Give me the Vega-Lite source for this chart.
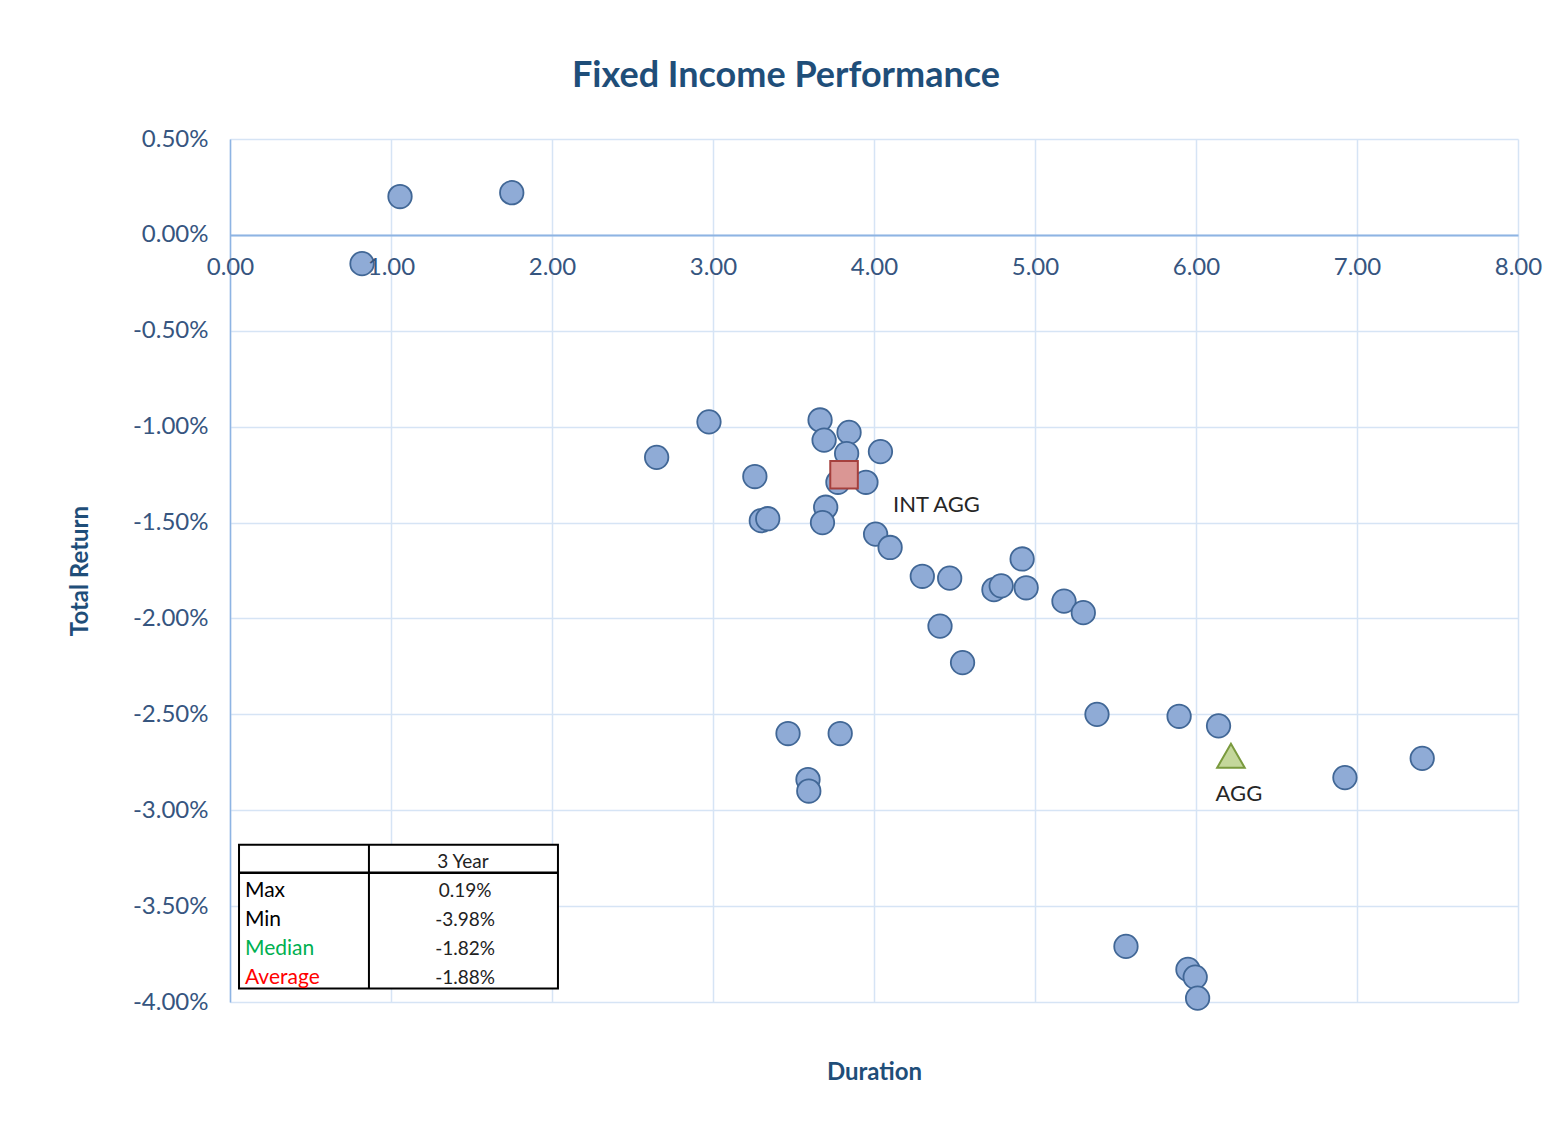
{
  "$schema": "https://vega.github.io/schema/vega-lite/v6.json",
  "width": 1288,
  "height": 863,
  "autosize": "none",
  "padding": {"left": 230, "top": 139, "right": 41, "bottom": 129},
  "background": "white",
  "config": {"font": "Lato", "view": {"stroke": null}},
  "title": {
    "text": "Fixed Income Performance",
    "fontSize": 36,
    "fontWeight": "bold",
    "color": "#1F4E79",
    "anchor": "middle",
    "dx": -88,
    "offset": 32
  },
  "datasets": {
    "funds": [
      {"duration": 1.056, "ret": 0.0020},
      {"duration": 1.75, "ret": 0.0022},
      {"duration": 0.82, "ret": -0.0015},
      {"duration": 2.65, "ret": -0.0116},
      {"duration": 2.975, "ret": -0.00975},
      {"duration": 3.26, "ret": -0.0126},
      {"duration": 3.30, "ret": -0.0149},
      {"duration": 3.34, "ret": -0.0148},
      {"duration": 3.665, "ret": -0.00965},
      {"duration": 3.69, "ret": -0.0107},
      {"duration": 3.845, "ret": -0.0103},
      {"duration": 3.83, "ret": -0.0114},
      {"duration": 3.776, "ret": -0.0129},
      {"duration": 3.95, "ret": -0.0129},
      {"duration": 4.04, "ret": -0.0113},
      {"duration": 3.70, "ret": -0.0142},
      {"duration": 3.68, "ret": -0.0150},
      {"duration": 4.01, "ret": -0.0156},
      {"duration": 4.10, "ret": -0.0163},
      {"duration": 4.30, "ret": -0.0178},
      {"duration": 4.47, "ret": -0.0179},
      {"duration": 4.41, "ret": -0.0204},
      {"duration": 4.55, "ret": -0.0223},
      {"duration": 4.745, "ret": -0.0185},
      {"duration": 4.79, "ret": -0.0183},
      {"duration": 4.92, "ret": -0.0169},
      {"duration": 4.945, "ret": -0.0184},
      {"duration": 5.18, "ret": -0.0191},
      {"duration": 5.30, "ret": -0.0197},
      {"duration": 5.385, "ret": -0.0250},
      {"duration": 5.895, "ret": -0.0251},
      {"duration": 6.14, "ret": -0.0256},
      {"duration": 6.925, "ret": -0.0283},
      {"duration": 7.405, "ret": -0.0273},
      {"duration": 3.466, "ret": -0.0260},
      {"duration": 3.79, "ret": -0.0260},
      {"duration": 3.59, "ret": -0.0284},
      {"duration": 3.595, "ret": -0.0290},
      {"duration": 5.565, "ret": -0.0371},
      {"duration": 5.95, "ret": -0.0383},
      {"duration": 5.995, "ret": -0.0387},
      {"duration": 6.01, "ret": -0.0398}
    ],
    "bench": [
      {"name": "INT AGG", "duration": 3.814, "ret": -0.01251},
      {"name": "AGG", "duration": 6.217, "ret": -0.02716}
    ],
    "stats": [
      {"stat": "Max", "value": "0.19%"},
      {"stat": "Min", "value": "-3.98%"},
      {"stat": "Median", "value": "-1.82%"},
      {"stat": "Average", "value": "-1.88%"}
    ]
  },
  "resolve": {"axis": {"x": "independent", "y": "independent"}},
  "layer": [
    {
      "data": {"name": "funds"},
      "mark": {"type": "circle", "size": 550, "fill": "#8FABD6", "stroke": "#416796", "strokeWidth": 1.8, "opacity": 1},
      "encoding": {
        "x": {
          "field": "duration", "type": "quantitative",
          "scale": {"domain": [0, 8], "nice": false, "zero": false},
          "axis": {
            "values": [0, 1, 2, 3, 4, 5, 6, 7, 8],
            "grid": true, "gridColor": "#D6E4F5", "gridWidth": 1.5,
            "labels": false, "ticks": false, "domain": false,
            "title": "Duration", "titleFontSize": 24, "titleFontWeight": "bold",
            "titleColor": "#1F4E79", "titlePadding": 58
          }
        },
        "y": {
          "field": "ret", "type": "quantitative",
          "scale": {"domain": [-0.04, 0.005], "nice": false, "zero": false},
          "axis": {
            "values": [-0.04, -0.035, -0.03, -0.025, -0.02, -0.015, -0.01, -0.005, 0, 0.005],
            "labelExpr": "replace(format(datum.value, '.2%'), '\u2212', '-')",
            "grid": true, "gridColor": "#D6E4F5", "gridWidth": 1.5,
            "domain": true, "domainColor": "#8EB4E3", "domainWidth": 1.5,
            "ticks": false, "labelPadding": 22, "labelFontSize": 24,
            "labelColor": "#36557F", "labelFlush": false, "labelOverlap": false,
            "title": "Total Return", "titleFontSize": 24, "titleFontWeight": "bold",
            "titleColor": "#1F4E79", "titlePadding": 40
          }
        }
      }
    },
    {
      "data": {"name": "bench"},
      "mark": {"type": "point", "filled": true, "size": 760, "strokeWidth": 2, "opacity": 1},
      "encoding": {
        "x": {
          "field": "duration", "type": "quantitative",
          "axis": {
            "orient": "bottom", "offset": -767,
            "values": [0, 1, 2, 3, 4, 5, 6, 7, 8], "format": ".2f",
            "grid": false, "ticks": false,
            "domain": true, "domainColor": "#8EB4E3", "domainWidth": 2,
            "labelFontSize": 24, "labelColor": "#36557F", "labelPadding": 20,
            "labelFlush": false, "labelOverlap": false,
            "title": null, "zindex": 1
          }
        },
        "y": {"field": "ret", "type": "quantitative", "axis": null},
        "shape": {"field": "name", "type": "nominal", "scale": {"domain": ["INT AGG", "AGG"], "range": ["square", "triangle-up"]}, "legend": null},
        "fill": {"field": "name", "type": "nominal", "scale": {"domain": ["INT AGG", "AGG"], "range": ["#DA9694", "#C4D79B"]}, "legend": null},
        "stroke": {"field": "name", "type": "nominal", "scale": {"domain": ["INT AGG", "AGG"], "range": ["#A5403D", "#7A9A3E"]}, "legend": null}
      }
    },
    {
      "data": {"name": "bench"},
      "transform": [{"filter": "datum.name === 'INT AGG'"}],
      "mark": {"type": "text", "align": "left", "baseline": "middle", "dx": 49, "dy": 30, "fontSize": 22, "color": "#262626"},
      "encoding": {
        "x": {"field": "duration", "type": "quantitative", "axis": null},
        "y": {"field": "ret", "type": "quantitative", "axis": null},
        "text": {"field": "name"}
      }
    },
    {
      "data": {"name": "bench"},
      "transform": [{"filter": "datum.name === 'AGG'"}],
      "mark": {"type": "text", "align": "center", "baseline": "middle", "dx": 8, "dy": 38, "fontSize": 22, "color": "#262626"},
      "encoding": {
        "x": {"field": "duration", "type": "quantitative", "axis": null},
        "y": {"field": "ret", "type": "quantitative", "axis": null},
        "text": {"field": "name"}
      }
    },
    {
      "data": {"values": [{}]},
      "mark": {"type": "rect", "fill": "white", "stroke": "black", "strokeWidth": 2},
      "encoding": {
        "x": {"datum": 0.056, "axis": null},
        "x2": {"datum": 2.037},
        "y": {"datum": -0.0318, "axis": null},
        "y2": {"datum": -0.0393}
      }
    },
    {
      "data": {"values": [{}]},
      "mark": {"type": "rule", "stroke": "black", "strokeWidth": 2},
      "encoding": {
        "x": {"datum": 0.863, "axis": null},
        "y": {"datum": -0.0318, "axis": null},
        "y2": {"datum": -0.0393}
      }
    },
    {
      "data": {"values": [{}]},
      "mark": {"type": "rule", "stroke": "black", "strokeWidth": 2.5},
      "encoding": {
        "x": {"datum": 0.056, "axis": null},
        "x2": {"datum": 2.037},
        "y": {"datum": -0.03326, "axis": null}
      }
    },
    {
      "data": {"values": [{"period": "3 Year"}]},
      "mark": {"type": "text", "align": "center", "baseline": "middle", "fontSize": 19, "color": "#222222"},
      "encoding": {
        "x": {"datum": 1.447, "axis": null},
        "y": {"datum": -0.03269, "axis": null},
        "text": {"field": "period"}
      }
    },
    {
      "data": {"name": "stats"},
      "transform": [{"filter": "datum.stat === 'Max'"}],
      "encoding": {"y": {"datum": -0.0342, "axis": null}},
      "layer": [
        {"mark": {"type": "text", "align": "left", "baseline": "middle", "fontSize": 21, "color": "#000000"}, "encoding": {"x": {"datum": 0.093, "axis": null}, "text": {"field": "stat"}}},
        {"mark": {"type": "text", "align": "center", "baseline": "middle", "fontSize": 19, "color": "#222222"}, "encoding": {"x": {"datum": 1.46, "axis": null}, "text": {"field": "value"}}}
      ]
    },
    {
      "data": {"name": "stats"},
      "transform": [{"filter": "datum.stat === 'Min'"}],
      "encoding": {"y": {"datum": -0.03571, "axis": null}},
      "layer": [
        {"mark": {"type": "text", "align": "left", "baseline": "middle", "fontSize": 21, "color": "#000000"}, "encoding": {"x": {"datum": 0.093, "axis": null}, "text": {"field": "stat"}}},
        {"mark": {"type": "text", "align": "center", "baseline": "middle", "fontSize": 19, "color": "#222222"}, "encoding": {"x": {"datum": 1.46, "axis": null}, "text": {"field": "value"}}}
      ]
    },
    {
      "data": {"name": "stats"},
      "transform": [{"filter": "datum.stat === 'Median'"}],
      "encoding": {"y": {"datum": -0.03723, "axis": null}},
      "layer": [
        {"mark": {"type": "text", "align": "left", "baseline": "middle", "fontSize": 21, "color": "#00B050"}, "encoding": {"x": {"datum": 0.093, "axis": null}, "text": {"field": "stat"}}},
        {"mark": {"type": "text", "align": "center", "baseline": "middle", "fontSize": 19, "color": "#222222"}, "encoding": {"x": {"datum": 1.46, "axis": null}, "text": {"field": "value"}}}
      ]
    },
    {
      "data": {"name": "stats"},
      "transform": [{"filter": "datum.stat === 'Average'"}],
      "encoding": {"y": {"datum": -0.03874, "axis": null}},
      "layer": [
        {"mark": {"type": "text", "align": "left", "baseline": "middle", "fontSize": 21, "color": "#FF0000"}, "encoding": {"x": {"datum": 0.093, "axis": null}, "text": {"field": "stat"}}},
        {"mark": {"type": "text", "align": "center", "baseline": "middle", "fontSize": 19, "color": "#222222"}, "encoding": {"x": {"datum": 1.46, "axis": null}, "text": {"field": "value"}}}
      ]
    }
  ]
}
